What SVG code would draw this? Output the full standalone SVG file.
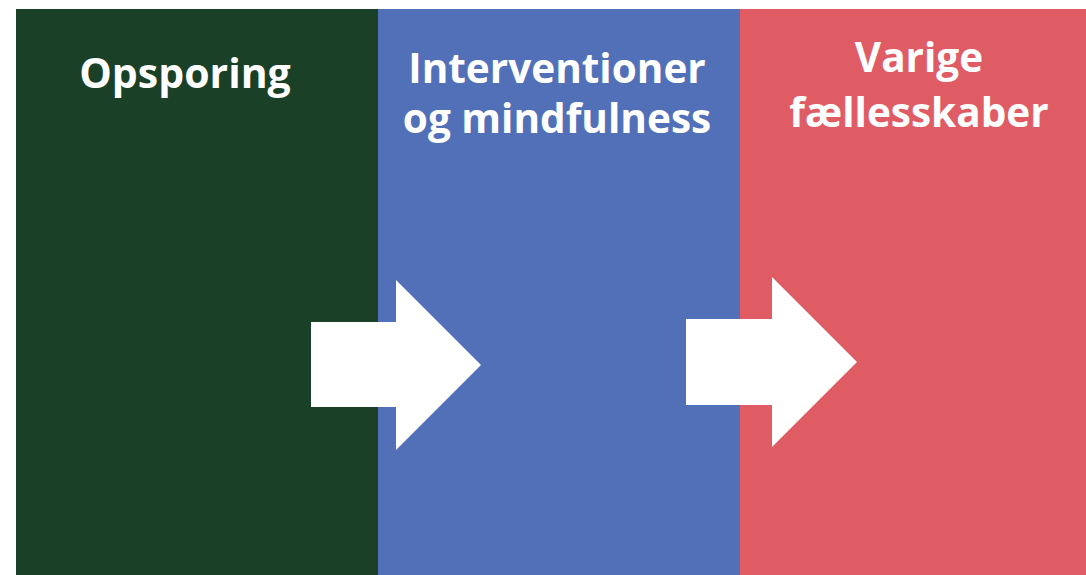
<svg xmlns="http://www.w3.org/2000/svg" width="1086" height="575" viewBox="0 0 1086 575">
<style>
.lbl{font-family:"Open Sans","Liberation Sans",sans-serif;font-weight:700;fill:#ffffff;text-anchor:middle}
.arrow{fill:#ffffff}
</style>
<rect width="1086" height="575" fill="#ffffff"/>
<g id="panel-opsporing">
<rect x="16" y="9" width="362" height="566" fill="#1a4027"/>
<text class="lbl" x="185" y="88" font-size="41">Opsporing</text>
</g>
<g id="panel-interventioner">
<rect x="378" y="9" width="362" height="566" fill="#5170b8"/>
<text class="lbl" x="557" y="83" font-size="40.5">Interventioner</text>
<text class="lbl" x="557" y="133" font-size="40.5">og mindfulness</text>
</g>
<g id="panel-varige">
<rect x="740" y="9" width="346" height="566" fill="#e05c65"/>
<text class="lbl" x="919" y="72" font-size="40.5">Varige</text>
<text class="lbl" x="919" y="127" font-size="40.5">fællesskaber</text>
</g>
<g id="connectors">
<polygon class="arrow" points="311,322 396,322 396,280 481,365 396,450 396,407 311,407"/>
<polygon class="arrow" points="686,319 772,319 772,277 857,362 772,447 772,405 686,405"/>
</g>
</svg>
